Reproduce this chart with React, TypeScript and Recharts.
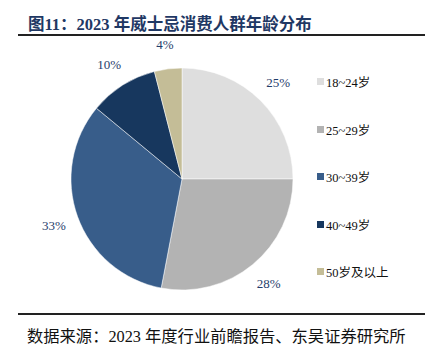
import { PieChart, Pie, Cell, Legend } from 'recharts'

const ageGroups = ['18~24岁', '25~29岁', '30~39岁', '40~49岁', '50岁及以上']
const shares = [25, 28, 33, 10, 4]
const COLORS = ['#dedede', '#b3b3b3', '#385d8a', '#17375e', '#c4bd97']

const SERIF = '"Liberation Serif", "Noto Sans CJK SC", serif'

const data = ageGroups.map((name, i) => ({ name, value: shares[i] }))

// label outside the slice, a fixed distance past the rim
// eslint-disable-next-line @typescript-eslint/no-explicit-any
function SliceLabel({ cx, cy, midAngle, outerRadius, value }: any) {
  const RADIAN = Math.PI / 180
  const r = outerRadius + 25
  const x = cx + r * Math.cos(-midAngle * RADIAN)
  const y = cy + r * Math.sin(-midAngle * RADIAN)
  return (
    <text x={x} y={y} textAnchor="middle" dominantBaseline="central" fontSize={13} fill="#1f3d6b" fontFamily={SERIF}>
      {value}%
    </text>
  )
}

function LegendList() {
  return (
    <div style={{ fontFamily: SERIF, fontSize: 12.5, color: '#111' }}>
      {data.map((d, i) => (
        <div key={d.name} style={{ display: 'flex', alignItems: 'center', height: 47.5 }}>
          <span style={{ display: 'inline-block', width: 7, height: 7, background: COLORS[i], marginRight: 2 }} />
          {d.name}
        </div>
      ))}
    </div>
  )
}

export default function App() {
  return (
    <div style={{ position: 'fixed', left: 0, top: 0, width: 436, height: 351, background: '#fff', fontFamily: SERIF }}>
      <div style={{ position: 'absolute', left: 28, top: 11, fontSize: 16.5, fontWeight: 700, color: '#1f3864', whiteSpace: 'nowrap' }}>
        图11：2023 年威士忌消费人群年龄分布
      </div>
      <div style={{ position: 'absolute', left: 18, top: 34, width: 407, height: 2, background: '#222' }} />
      <div style={{ position: 'absolute', left: 0, top: 0 }}>
        <PieChart width={436} height={351}>
          <Pie
            data={data}
            dataKey="value"
            nameKey="name"
            cx={177}
            cy={174}
            outerRadius={111}
            startAngle={90}
            endAngle={-270}
            stroke="#fff"
            strokeWidth={0.5}
            labelLine={false}
            label={SliceLabel}
            isAnimationActive={false}
          >
            {data.map((entry, i) => (
              <Cell key={entry.name} fill={COLORS[i]} />
            ))}
          </Pie>
          <Legend
            layout="vertical"
            content={() => <LegendList />}
            wrapperStyle={{ left: 317, top: 58, width: 110 }}
          />
        </PieChart>
      </div>
      <div style={{ position: 'absolute', left: 18, top: 313, width: 407, height: 2, background: '#222' }} />
      <div style={{ position: 'absolute', left: 27, top: 323, fontSize: 16.3, color: '#111', whiteSpace: 'nowrap' }}>
        数据来源：2023 年度行业前瞻报告、东吴证券研究所
      </div>
    </div>
  )
}
